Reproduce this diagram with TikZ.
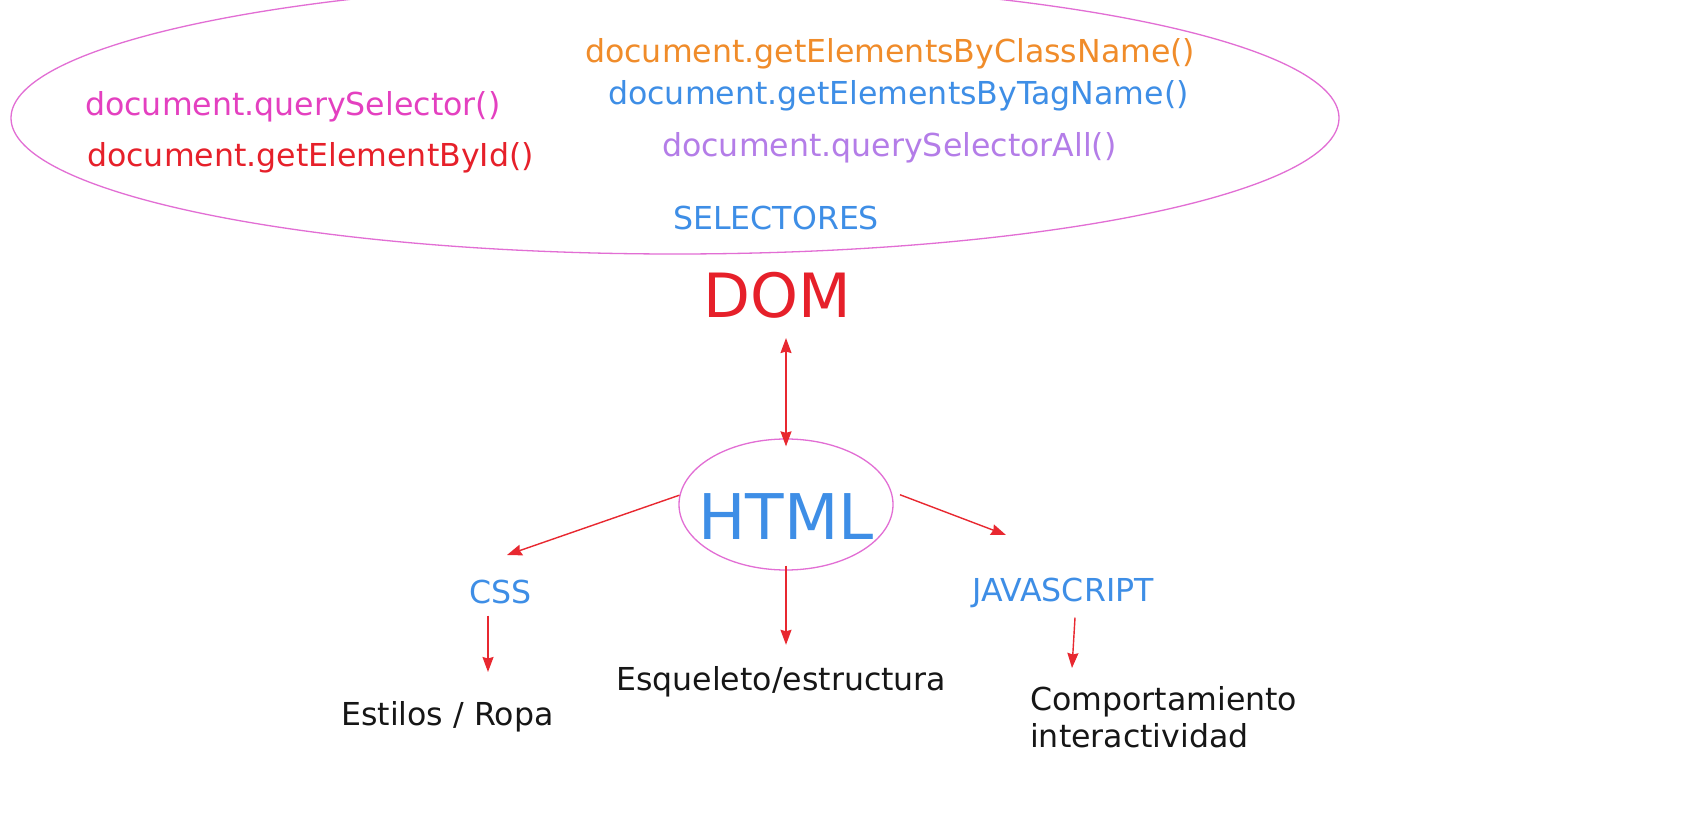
\documentclass[tikz,border=0pt]{standalone}
\usepackage{fontspec}
\setmainfont{DejaVu Sans}
\usepackage{tikz}
\usetikzlibrary{arrows.meta}
\usetikzlibrary{shapes.geometric}

\definecolor{ringpink}{RGB}{226,110,212}
\definecolor{selpink}{RGB}{228,64,192}
\definecolor{selred}{RGB}{230,32,42}
\definecolor{selorange}{RGB}{240,140,42}
\definecolor{selblue}{RGB}{62,142,230}
\definecolor{selpurple}{RGB}{180,125,232}
\definecolor{arrred}{RGB}{232,40,48}
\definecolor{txtblack}{RGB}{22,22,22}

\begin{document}
\begin{tikzpicture}[x=1pt,y=-1pt]
		\tikzset{txt/.style={inner sep=0pt,anchor=base west,font=\fontsize{31.6}{37}\selectfont},
			big/.style={inner sep=0pt,anchor=base,font=\fontsize{61}{70}\selectfont},
			ring/.style={draw=ringpink,line width=1.3pt,ellipse,inner sep=0pt},
			arr/.style={draw=arrred,line width=1.4pt,-{Stealth[length=15pt,width=11pt,inset=1.5pt]}},
			dbl/.style={arr,{Stealth[length=15pt,width=11pt,inset=1.5pt]}-{Stealth[length=15pt,width=11pt,inset=1.5pt]}}}
		\path[use as bounding box,clip] (0,0) rectangle (1708,834);
		\fill[white] (0,0) rectangle (1708,834);
		% selectors
		\node (selring) at (675,118) [ring,minimum width=1328pt,minimum height=272pt] {};
		\node (qsel) at (85,116) [txt,text=selpink] {document.querySelector()};
		\node (byid) at (87,167) [txt,text=selred] {document.getElementById()};
		\node (byclass) at (585,63) [txt,text=selorange] {document.getElementsByClassName()};
		\node (bytag) at (608,105) [txt,text=selblue] {document.getElementsByTagName()};
		\node (qall) at (662,157) [txt,text=selpurple] {document.querySelectorAll()};
		\node (sel) at (673,230) [txt,text=selblue] {SELECTORES};
		% dom and html
		\node (dom) at (777,318) [big,text=selred] {DOM};
		\node (htmlring) at (786,504.5) [ring,minimum width=214pt,minimum height=131pt] {};
		\node (html) at (786,539) [big,text=selblue,font=\fontsize{63}{70}\selectfont] {HTML};
		\node (css) at (500.5,603) [txt,anchor=base,text=selblue] {CSS};
		\node (js) at (1063,601) [txt,anchor=base,text=selblue] {JAVASCRIPT};
		\node (sty) at (341,725) [txt,text=txtblack] {Estilos / Ropa};
		\node (skel) at (616,690) [txt,text=txtblack] {Esqueleto/estructura};
		\node (beh) at (1030,686) [txt,anchor=north west,align=left,text=txtblack] {Comportamiento\\interactividad};
		\coordinate (cssTip) at (507,555);
		\coordinate (jsTip) at (1006,535);
		\coordinate (styTip) at (488,672);
		\coordinate (behTip) at (1072,668);
		
		\path
		(dom.south -| htmlring.north) edge [dbl,shorten <=19pt,shorten >=-8pt] (htmlring.north)
		(htmlring.175) edge [arr] (cssTip)
		(htmlring.7) edge [arr,shorten <=9pt] (jsTip)
		(htmlring.south) edge [arr,shorten <=-5pt,shorten >=21pt] (htmlring.south |- skel.north)
		([xshift=-12.5pt,yshift=-12pt]css.south) edge [arr] (styTip)
		([xshift=12pt,yshift=-10pt]js.south) edge [arr] (behTip);
	\end{tikzpicture}
\end{document}
